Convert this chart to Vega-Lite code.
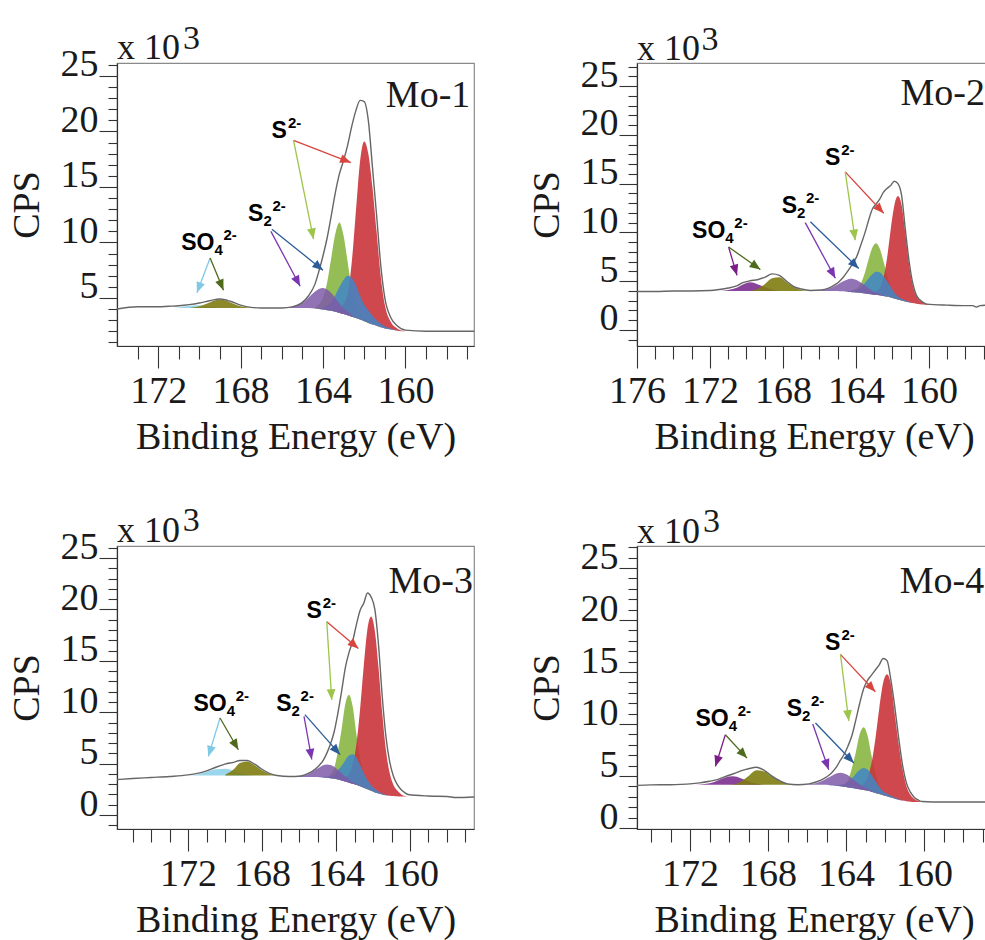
{
"$schema": "https://vega.github.io/schema/vega-lite/v6.json",
"padding": {"left": 7, "top": 21, "right": 0, "bottom": 0},
"background": "white",
"columns": 2,
"spacing": {"row": 46, "column": 49},
"config": {
  "view": {"stroke": "#8a8a8a", "strokeWidth": 1.2},
  "axis": {"grid": false, "domainColor": "#333", "domainWidth": 1.2, "tickColor": "#333", "tickWidth": 1.1,
    "labelFont": "Liberation Serif", "labelFontSize": 38, "labelColor": "#1a1a1a",
    "titleFont": "Liberation Serif", "titleFontSize": 38, "titleFontWeight": "normal", "titleColor": "#1a1a1a",
    "labelOverlap": false, "labelFlush": false, "labelBound": false}
},
"datasets": {
"p1": [
{"E":174,"bg":4.1,"env":4.0},{"E":173,"bg":4.1,"env":4.2},{"E":172,"bg":4.1,"env":4.2},
{"E":171.5,"bg":4.1,"env":4.25,"lbl":4.1},{"E":171,"bg":4.1,"env":4.3,"lbl":4.15},
{"E":170.5,"bg":4.1,"env":4.4,"lbl":4.3,"olv":4.1},{"E":170,"bg":4.1,"env":4.55,"lbl":4.35,"olv":4.25},
{"E":169.5,"bg":4.1,"env":4.75,"lbl":4.25,"olv":4.6},{"E":169,"bg":4.1,"env":4.9,"lbl":4.1,"olv":4.85},
{"E":168.5,"bg":4.1,"env":4.7,"olv":4.6},{"E":168,"bg":4.1,"env":4.35,"olv":4.25},
{"E":167.5,"bg":4.1,"env":4.15,"olv":4.1},{"E":167,"bg":4.1,"env":4.1},
{"E":166,"bg":4.1,"env":4.1,"pur":4.1},{"E":165.5,"bg":4.1,"env":4.2,"pur":4.2},
{"E":165,"bg":4.1,"env":4.6,"pur":4.55},{"E":164.7,"bg":4.1,"env":5.2,"pur":5.05},
{"E":164.4,"bg":4.05,"env":6.2,"pur":5.55,"grn":4.1},
{"E":164.2,"bg":4.0,"env":7.4,"pur":5.8,"grn":4.45,"blu":4.0},
{"E":164.0,"bg":3.95,"env":8.8,"pur":5.9,"grn":5.0,"blu":4.15},
{"E":163.8,"bg":3.9,"env":10.4,"pur":5.75,"grn":6.4,"blu":4.3},
{"E":163.6,"bg":3.85,"env":12.4,"pur":5.45,"grn":8.6,"blu":4.65},
{"E":163.4,"bg":3.75,"env":14.5,"pur":5.0,"grn":10.8,"blu":5.25,"red":3.75},
{"E":163.2,"bg":3.65,"env":16.2,"pur":4.5,"grn":11.8,"blu":6.0,"red":4.05},
{"E":163.0,"bg":3.55,"env":17.4,"pur":4.05,"grn":10.6,"blu":6.65,"red":4.45},
{"E":162.8,"bg":3.45,"env":18.8,"pur":3.75,"grn":8.2,"blu":7.0,"red":5.4},
{"E":162.6,"bg":3.3,"env":20.5,"pur":3.45,"grn":5.8,"blu":6.8,"red":8.3},
{"E":162.4,"bg":3.2,"env":21.9,"pur":3.2,"grn":4.3,"blu":6.15,"red":12.9},
{"E":162.2,"bg":3.05,"env":22.8,"grn":3.6,"blu":5.2,"red":17.35},
{"E":162.0,"bg":2.9,"env":22.7,"grn":3.15,"blu":4.4,"red":19.1},
{"E":161.8,"bg":2.75,"env":21.0,"grn":2.85,"blu":3.9,"red":18.0},
{"E":161.6,"bg":2.6,"env":16.8,"grn":2.6,"blu":3.4,"red":15.0},
{"E":161.4,"bg":2.5,"env":12.5,"blu":3.0,"red":11.0},
{"E":161.2,"bg":2.35,"env":8.0,"blu":2.7,"red":7.0},
{"E":161.0,"bg":2.25,"env":5.0,"blu":2.45,"red":4.4},
{"E":160.7,"bg":2.15,"env":3.2,"blu":2.25,"red":2.8},
{"E":160.4,"bg":2.05,"env":2.5,"blu":2.05,"red":2.25},
{"E":160.0,"bg":2.0,"env":2.1,"red":2.0},
{"E":159,"bg":2.0,"env":2.0},{"E":158,"bg":2.0,"env":2.0},{"E":156.67,"bg":2.0,"env":2.0}
],
"p2": [
{"E":176,"bg":4.0,"env":3.95},{"E":175,"bg":4.0,"env":3.95},{"E":174,"bg":4.0,"env":4.0},
{"E":173,"bg":4.0,"env":4.0},{"E":172,"bg":4.0,"env":4.05},
{"E":171.5,"bg":4.0,"env":4.15,"pso":4.0},{"E":171,"bg":4.0,"env":4.3,"pso":4.1},
{"E":170.5,"bg":4.0,"env":4.55,"pso":4.35},{"E":170.2,"bg":4.0,"env":4.85,"pso":4.65},
{"E":169.8,"bg":4.0,"env":5.05,"pso":4.88,"olv":4.0},{"E":169.4,"bg":4.0,"env":5.15,"pso":4.7,"olv":4.2},
{"E":169.0,"bg":4.0,"env":5.4,"pso":4.4,"olv":4.7},{"E":168.6,"bg":4.0,"env":5.75,"pso":4.15,"olv":5.3},
{"E":168.2,"bg":4.0,"env":5.6,"pso":4.0,"olv":5.4},{"E":167.8,"bg":4.0,"env":5.0,"olv":4.9},
{"E":167.4,"bg":4.0,"env":4.45,"olv":4.4},{"E":167.0,"bg":4.0,"env":4.2,"olv":4.1},
{"E":166.5,"bg":4.0,"env":4.05,"olv":4.0,"pur":4.0},
{"E":165.9,"bg":4.0,"env":4.1,"pur":4.08},{"E":165.5,"bg":4.0,"env":4.3,"pur":4.22},
{"E":165.1,"bg":4.0,"env":4.7,"pur":4.55},{"E":164.9,"bg":3.98,"env":5.0,"pur":4.78},
{"E":164.7,"bg":3.96,"env":5.4,"pur":4.99},
{"E":164.5,"bg":3.93,"env":5.9,"pur":5.15,"blu":3.93},
{"E":164.3,"bg":3.9,"env":6.45,"pur":5.24,"blu":4.01,"grn":3.95},
{"E":164.1,"bg":3.87,"env":7.0,"pur":5.21,"blu":4.04,"grn":4.15},
{"E":163.9,"bg":3.83,"env":7.8,"pur":5.05,"blu":4.17,"grn":4.35},
{"E":163.7,"bg":3.79,"env":8.9,"pur":4.82,"blu":4.39,"grn":4.9},
{"E":163.5,"bg":3.75,"env":10.0,"pur":4.55,"blu":4.83,"grn":5.95},
{"E":163.3,"bg":3.7,"env":11.3,"pur":4.25,"blu":5.3,"grn":7.3},
{"E":163.1,"bg":3.65,"env":12.4,"pur":3.99,"blu":5.71,"grn":8.45,"red":3.8},
{"E":162.9,"bg":3.6,"env":12.9,"pur":3.82,"blu":5.97,"grn":8.9,"red":3.97},
{"E":162.7,"bg":3.55,"env":13.4,"pur":3.67,"blu":5.92,"grn":8.35,"red":4.29},
{"E":162.5,"bg":3.49,"env":14.1,"pur":3.55,"blu":5.55,"grn":7.1,"red":5.29},
{"E":162.3,"bg":3.42,"env":14.5,"pur":3.42,"blu":5.02,"grn":5.6,"red":7.32},
{"E":162.1,"bg":3.34,"env":14.8,"blu":4.42,"grn":4.4,"red":10.24},
{"E":161.9,"bg":3.23,"env":15.25,"blu":3.83,"grn":3.7,"red":12.73},
{"E":161.7,"bg":3.12,"env":15.0,"blu":3.46,"grn":3.35,"red":13.72},
{"E":161.5,"bg":3.02,"env":13.8,"blu":3.19,"grn":3.11,"red":12.8},
{"E":161.3,"bg":2.93,"env":10.4,"blu":3.04,"grn":2.93,"red":10.0},
{"E":161.1,"bg":2.85,"env":7.2,"blu":2.91,"red":6.9},
{"E":160.9,"bg":2.77,"env":4.9,"blu":2.77,"red":4.7},
{"E":160.7,"bg":2.7,"env":3.6,"red":3.5},
{"E":160.5,"bg":2.64,"env":3.1,"red":3.02},
{"E":160.3,"bg":2.6,"env":2.8,"red":2.77},
{"E":160.1,"bg":2.56,"env":2.65,"red":2.64},
{"E":159,"bg":2.55,"env":2.55,"red":2.55},
{"E":158,"bg":2.55,"env":2.5},{"E":157.6,"bg":2.55,"env":2.5},{"E":157.4,"bg":2.55,"env":2.35},
{"E":157.2,"bg":2.55,"env":2.5},{"E":156.6,"bg":2.55,"env":2.55}
],
"p3": [
{"E":175.84,"bg":3.45,"env":3.45},{"E":175,"bg":3.55,"env":3.55},{"E":174,"bg":3.65,"env":3.65},
{"E":173,"bg":3.75,"env":3.75},{"E":172,"bg":3.85,"env":3.9,"lbl":3.85},
{"E":171.5,"bg":3.85,"env":4.05,"lbl":3.95},{"E":171,"bg":3.85,"env":4.3,"lbl":4.2},
{"E":170.5,"bg":3.85,"env":4.65,"lbl":4.45},{"E":170,"bg":3.85,"env":4.95,"lbl":4.5,"olv":3.9},
{"E":169.5,"bg":3.85,"env":5.15,"lbl":4.3,"olv":4.5},{"E":169.2,"bg":3.85,"env":5.3,"lbl":4.1,"olv":5.05},
{"E":168.8,"bg":3.85,"env":5.3,"lbl":3.9,"olv":5.2},{"E":168.4,"bg":3.85,"env":4.95,"lbl":3.85,"olv":4.85},
{"E":168.0,"bg":3.85,"env":4.45,"olv":4.35},{"E":167.6,"bg":3.85,"env":4.05,"olv":4.0},
{"E":167.2,"bg":3.85,"env":3.85,"olv":3.85},
{"E":166.5,"bg":3.75,"env":3.75,"pur":3.75},{"E":165.9,"bg":3.7,"env":3.8,"pur":3.79},
{"E":165.5,"bg":3.7,"env":4.05,"pur":3.99},{"E":165.1,"bg":3.7,"env":4.5,"pur":4.42},
{"E":164.9,"bg":3.68,"env":4.85,"pur":4.63,"blu":3.68},
{"E":164.7,"bg":3.66,"env":5.3,"pur":4.83,"blu":3.72},
{"E":164.5,"bg":3.63,"env":6.0,"pur":4.92,"blu":3.74,"grn":3.63},
{"E":164.3,"bg":3.58,"env":6.9,"pur":4.87,"blu":3.78,"grn":3.96},
{"E":164.1,"bg":3.52,"env":8.1,"pur":4.69,"blu":3.95,"grn":4.55},
{"E":163.9,"bg":3.45,"env":9.9,"pur":4.4,"blu":4.36,"grn":6.19},
{"E":163.7,"bg":3.36,"env":12.0,"pur":4.08,"blu":4.79,"grn":8.32,"red":3.36},
{"E":163.5,"bg":3.26,"env":14.3,"pur":3.74,"blu":5.34,"grn":10.78,"red":3.71},
{"E":163.3,"bg":3.15,"env":15.8,"pur":3.44,"blu":5.8,"grn":11.7,"red":4.0},
{"E":163.1,"bg":3.05,"env":16.9,"pur":3.22,"blu":5.9,"grn":10.57,"red":4.91},
{"E":162.9,"bg":2.95,"env":18.5,"pur":3.04,"blu":5.6,"grn":7.91,"red":6.85},
{"E":162.7,"bg":2.8,"env":19.9,"pur":2.8,"blu":4.88,"grn":5.54,"red":10.26},
{"E":162.5,"bg":2.65,"env":20.6,"blu":4.08,"grn":3.68,"red":14.52},
{"E":162.3,"bg":2.5,"env":21.6,"blu":3.41,"grn":2.88,"red":18.1},
{"E":162.1,"bg":2.35,"env":21.2,"blu":2.9,"grn":2.5,"red":19.3},
{"E":161.9,"bg":2.2,"env":20.0,"blu":2.55,"grn":2.2,"red":17.9},
{"E":161.7,"bg":2.1,"env":16.5,"blu":2.3,"red":14.3},
{"E":161.5,"bg":2.0,"env":11.5,"blu":2.1,"red":9.9},
{"E":161.3,"bg":1.93,"env":7.6,"blu":1.98,"red":6.3},
{"E":161.1,"bg":1.88,"env":5.2,"blu":1.88,"red":4.1},
{"E":160.9,"bg":1.85,"env":3.8,"red":2.95},
{"E":160.7,"bg":1.82,"env":3.0,"red":2.4},
{"E":160.5,"bg":1.8,"env":2.5,"red":2.05},
{"E":160.3,"bg":1.8,"env":2.2,"red":1.85},
{"E":160.1,"bg":1.8,"env":2.0,"red":1.8},
{"E":159,"bg":1.8,"env":1.85},{"E":158,"bg":1.8,"env":1.8},{"E":157.5,"bg":1.8,"env":1.7},
{"E":156.54,"bg":1.8,"env":1.75}
],
"p4": [
{"E":174.72,"bg":4.17,"env":4.1},{"E":174,"bg":4.17,"env":4.15},{"E":173,"bg":4.17,"env":4.17},
{"E":172.5,"bg":4.17,"env":4.2},{"E":172,"bg":4.17,"env":4.25,"pso":4.17},
{"E":171.5,"bg":4.17,"env":4.35,"pso":4.2},{"E":171.0,"bg":4.17,"env":4.5,"pso":4.3},
{"E":170.6,"bg":4.17,"env":4.65,"pso":4.55},{"E":170.2,"bg":4.17,"env":4.95,"pso":4.85,"olv":4.17},
{"E":169.8,"bg":4.17,"env":5.2,"pso":4.97,"olv":4.2},{"E":169.4,"bg":4.17,"env":5.5,"pso":4.8,"olv":4.45},
{"E":169.0,"bg":4.17,"env":5.7,"pso":4.5,"olv":5.0},{"E":168.6,"bg":4.17,"env":5.85,"pso":4.25,"olv":5.55},
{"E":168.2,"bg":4.17,"env":5.55,"pso":4.17,"olv":5.45},{"E":167.8,"bg":4.17,"env":5.0,"olv":4.95},
{"E":167.4,"bg":4.17,"env":4.55,"olv":4.5},{"E":167.0,"bg":4.17,"env":4.25,"olv":4.25},
{"E":166.5,"bg":4.17,"env":4.17,"olv":4.17,"pur":4.17},
{"E":165.9,"bg":4.17,"env":4.25,"pur":4.22},{"E":165.5,"bg":4.17,"env":4.45,"pur":4.34},
{"E":165.1,"bg":4.17,"env":4.8,"pur":4.65},
{"E":164.9,"bg":4.15,"env":5.05,"pur":4.86,"blu":4.15},
{"E":164.7,"bg":4.12,"env":5.4,"pur":5.06,"blu":4.16},
{"E":164.5,"bg":4.08,"env":5.85,"pur":5.24,"blu":4.15},
{"E":164.3,"bg":4.03,"env":6.5,"pur":5.31,"blu":4.17,"grn":4.03},
{"E":164.1,"bg":3.97,"env":7.1,"pur":5.25,"blu":4.22,"grn":4.24},
{"E":163.9,"bg":3.91,"env":7.9,"pur":5.07,"blu":4.41,"grn":4.63},
{"E":163.7,"bg":3.85,"env":8.9,"pur":4.79,"blu":4.8,"grn":5.78},
{"E":163.5,"bg":3.79,"env":10.4,"pur":4.5,"blu":5.22,"grn":7.29,"red":3.79},
{"E":163.3,"bg":3.73,"env":12.0,"pur":4.21,"blu":5.6,"grn":9.04,"red":4.03},
{"E":163.1,"bg":3.67,"env":13.4,"pur":3.95,"blu":5.77,"grn":9.7,"red":4.26},
{"E":162.9,"bg":3.6,"env":14.2,"pur":3.77,"blu":5.62,"grn":8.91,"red":4.89},
{"E":162.7,"bg":3.5,"env":14.7,"pur":3.59,"blu":5.16,"grn":7.0,"red":6.2},
{"E":162.5,"bg":3.38,"env":15.2,"pur":3.38,"blu":4.54,"grn":5.31,"red":8.55},
{"E":162.3,"bg":3.27,"env":15.7,"blu":3.98,"grn":3.99,"red":11.5},
{"E":162.1,"bg":3.16,"env":16.3,"blu":3.54,"grn":3.43,"red":13.96},
{"E":161.9,"bg":3.05,"env":16.1,"blu":3.3,"grn":3.15,"red":14.8},
{"E":161.7,"bg":2.93,"env":14.2,"blu":3.1,"grn":2.93,"red":13.8},
{"E":161.5,"bg":2.82,"env":11.6,"blu":2.95,"red":10.9},
{"E":161.3,"bg":2.72,"env":8.6,"blu":2.8,"red":8.0},
{"E":161.1,"bg":2.64,"env":6.0,"blu":2.68,"red":5.6},
{"E":160.9,"bg":2.58,"env":4.3,"blu":2.6,"red":4.0},
{"E":160.7,"bg":2.54,"env":3.45,"red":3.2},
{"E":160.5,"bg":2.51,"env":2.95,"red":2.8},
{"E":160.3,"bg":2.5,"env":2.7,"red":2.62},
{"E":160.1,"bg":2.5,"env":2.55,"red":2.52},
{"E":159,"bg":2.5,"env":2.5,"red":2.5},
{"E":158,"bg":2.5,"env":2.5},{"E":156.57,"bg":2.5,"env":2.5}
],
"ann": [
{"p":1,"k":"lab","E":165.75,"v":19.4,"base":"S","sub":"","sup":"2-"},
{"p":1,"k":"arr","E":165.43,"v":19.2,"E2":162.65,"v2":17.2,"t":"red"},
{"p":1,"k":"arr","E":165.43,"v":19.2,"E2":164.46,"v2":10.3,"t":"green"},
{"p":1,"k":"lab","E":166.89,"v":11.9,"base":"S","sub":"2","sup":"2-"},
{"p":1,"k":"arr","E":166.48,"v":11.2,"E2":164.0,"v2":7.5,"t":"blue"},
{"p":1,"k":"arr","E":166.53,"v":11.0,"E2":165.11,"v2":6.06,"t":"purple"},
{"p":1,"k":"lab","E":169.27,"v":9.3,"base":"SO","sub":"4","sup":"2-"},
{"p":1,"k":"arr","E":169.48,"v":8.6,"E2":170.12,"v2":5.47,"t":"lblue"},
{"p":1,"k":"arr","E":169.48,"v":8.6,"E2":168.83,"v2":5.7,"t":"olive"},
{"p":1,"k":"mo","E":156.85,"v":22.25,"base":"Mo-1"},
{"p":1,"k":"x10","E":174.0,"v":26.5,"base":"x 10"},
{"p":1,"k":"e3","E":170.8,"v":27.4,"base":"3"},
{"p":2,"k":"lab","E":164.86,"v":16.9,"base":"S","sub":"","sup":"2-"},
{"p":2,"k":"arr","E":164.59,"v":16.2,"E2":162.48,"v2":11.96,"t":"red"},
{"p":2,"k":"arr","E":164.59,"v":16.2,"E2":164.04,"v2":9.2,"t":"green"},
{"p":2,"k":"lab","E":167.23,"v":11.95,"base":"S","sub":"2","sup":"2-"},
{"p":2,"k":"arr","E":166.5,"v":11.1,"E2":163.85,"v2":6.3,"t":"blue"},
{"p":2,"k":"arr","E":166.78,"v":11.0,"E2":165.13,"v2":5.3,"t":"purple"},
{"p":2,"k":"lab","E":171.16,"v":9.4,"base":"SO","sub":"4","sup":"2-"},
{"p":2,"k":"arr","E":170.98,"v":8.5,"E2":170.52,"v2":5.6,"t":"magenta"},
{"p":2,"k":"arr","E":170.98,"v":8.5,"E2":169.24,"v2":6.2,"t":"olive"},
{"p":2,"k":"mo","E":156.93,"v":23.05,"base":"Mo-2"},
{"p":2,"k":"x10","E":176.0,"v":27.66,"base":"x 10"},
{"p":2,"k":"e3","E":172.47,"v":28.7,"base":"3"},
{"p":3,"k":"lab","E":164.77,"v":19.2,"base":"S","sub":"","sup":"2-"},
{"p":3,"k":"arr","E":164.5,"v":18.8,"E2":162.79,"v2":16.2,"t":"red"},
{"p":3,"k":"arr","E":164.5,"v":18.8,"E2":164.23,"v2":11.2,"t":"green"},
{"p":3,"k":"lab","E":166.4,"v":10.1,"base":"S","sub":"2","sup":"2-"},
{"p":3,"k":"arr","E":165.68,"v":9.76,"E2":163.78,"v2":5.87,"t":"blue"},
{"p":3,"k":"arr","E":165.73,"v":9.6,"E2":165.31,"v2":5.4,"t":"purple"},
{"p":3,"k":"lab","E":169.91,"v":10.1,"base":"SO","sub":"4","sup":"2-"},
{"p":3,"k":"arr","E":170.27,"v":9.44,"E2":170.9,"v2":5.7,"t":"lblue"},
{"p":3,"k":"arr","E":170.27,"v":9.44,"E2":169.28,"v2":6.35,"t":"olive"},
{"p":3,"k":"mo","E":156.6,"v":21.6,"base":"Mo-3"},
{"p":3,"k":"x10","E":175.84,"v":26.6,"base":"x 10"},
{"p":3,"k":"e3","E":172.28,"v":27.6,"base":"3"},
{"p":4,"k":"lab","E":164.29,"v":17.1,"base":"S","sub":"","sup":"2-"},
{"p":4,"k":"arr","E":164.29,"v":16.7,"E2":162.5,"v2":13.1,"t":"red"},
{"p":4,"k":"arr","E":164.29,"v":16.7,"E2":163.86,"v2":10.3,"t":"green"},
{"p":4,"k":"lab","E":166.26,"v":10.74,"base":"S","sub":"2","sup":"2-"},
{"p":4,"k":"arr","E":165.57,"v":10.1,"E2":163.6,"v2":6.25,"t":"blue"},
{"p":4,"k":"arr","E":165.71,"v":10.0,"E2":164.89,"v2":5.6,"t":"purple"},
{"p":4,"k":"lab","E":170.02,"v":9.78,"base":"SO","sub":"4","sup":"2-"},
{"p":4,"k":"arr","E":170.19,"v":8.97,"E2":170.7,"v2":5.93,"t":"magenta"},
{"p":4,"k":"arr","E":170.19,"v":8.97,"E2":169.08,"v2":6.73,"t":"olive"},
{"p":4,"k":"mo","E":156.92,"v":22.6,"base":"Mo-4"},
{"p":4,"k":"x10","E":174.72,"v":27.4,"base":"x 10"},
{"p":4,"k":"e3","E":171.34,"v":28.5,"base":"3"}
]
},
"concat": [
{
 "width": 357, "height": 283,
 "encoding": {
  "x": {"field": "E", "type": "quantitative", "title": "Binding Energy (eV)",
   "scale": {"domain": [156.67, 174], "reverse": true, "nice": false, "zero": false},
   "axis": {"values": [157,158,159,160,161,162,163,164,165,166,167,168,169,170,171,172,173], "format": "d",
    "labelExpr": "datum.value % 4 === 0 ? datum.label : ''",
    "tickSize": {"condition": {"test": "datum.value % 4 === 0", "value": 22}, "value": 13},
    "labelPadding": 4, "titlePadding": 8}},
  "y": {"field": "v", "type": "quantitative", "title": "CPS",
   "scale": {"domain": [0.67, 26.17], "nice": false, "zero": false},
   "axis": {"values": [1,2,3,4,5,6,7,8,9,10,11,12,13,14,15,16,17,18,19,20,21,22,23,24,25,26], "format": "d",
    "labelExpr": "datum.value % 5 === 0 ? datum.label : ''",
    "tickSize": {"condition": {"test": "datum.value % 5 === 0", "value": 18}, "value": 9},
    "labelBaseline": "alphabetic", "labelPadding": 1, "titlePadding": 14}}
 },
 "layer": [
  {"data": {"name": "p1"},
   "transform": [{"fold": ["lbl","olv","grn","red","blu","pur","pso","env"], "as": ["comp","v"]}, {"filter": "isValid(datum.v)"}],
   "layer": [
    {"transform": [{"filter": "datum.comp === 'lbl'"}], "mark": {"type": "area", "color": "#8fd1ea", "opacity": 0.9, "interpolate": "monotone"}, "encoding": {"y2": {"field": "bg"}}},
    {"transform": [{"filter": "datum.comp === 'olv'"}], "mark": {"type": "area", "color": "#7f7c12", "opacity": 0.9, "interpolate": "monotone"}, "encoding": {"y2": {"field": "bg"}}},
    {"transform": [{"filter": "datum.comp === 'grn'"}], "mark": {"type": "area", "color": "#8ab642", "opacity": 0.9, "interpolate": "monotone"}, "encoding": {"y2": {"field": "bg"}}},
    {"transform": [{"filter": "datum.comp === 'red'"}], "mark": {"type": "area", "color": "#c9343a", "opacity": 0.9, "interpolate": "monotone"}, "encoding": {"y2": {"field": "bg"}}},
    {"transform": [{"filter": "datum.comp === 'blu'"}], "mark": {"type": "area", "color": "#3f86c8", "opacity": 0.85, "interpolate": "monotone"}, "encoding": {"y2": {"field": "bg"}}},
    {"transform": [{"filter": "datum.comp === 'pur'"}], "mark": {"type": "area", "color": "#7f5aa8", "opacity": 0.85, "interpolate": "monotone"}, "encoding": {"y2": {"field": "bg"}}},
    {"transform": [{"filter": "datum.comp === 'env'"}], "mark": {"type": "line", "color": "#666666", "strokeWidth": 1.4, "interpolate": "monotone"}, "encoding": {}}
   ]},
  {"data": {"name": "ann"},
   "transform": [{"filter": "datum.p === 1"}],
   "layer": [
    {"transform": [{"filter": "datum.k === 'arr'"}], "mark": {"type": "rule", "strokeWidth": 1.3},
     "encoding": {"x2": {"field": "E2", "title": "Binding Energy (eV)"}, "y2": {"field": "v2", "title": "CPS"},
      "color": {"field": "t", "type": "nominal", "legend": null, "scale": {"domain": ["red","green","blue","purple","lblue","olive","magenta"], "range": ["#d8453e","#9cc54a","#2c5d99","#7a36b1","#7fc9e6","#4e6a1b","#7b1d87"]}}}},
    {"transform": [{"filter": "datum.k === 'arr'"}, {"calculate": "atan2((datum.E - datum.E2) * 20.6, (datum.v2 - datum.v) * 11.1) * 180 / PI", "as": "ang"}],
     "mark": {"type": "point", "shape": "M0,0L-0.45,1.1L0.45,1.1Z", "filled": true, "size": 380, "opacity": 1},
     "encoding": {"x": {"field": "E2", "type": "quantitative", "title": "Binding Energy (eV)"}, "y": {"field": "v2", "type": "quantitative", "title": "CPS"},
      "angle": {"field": "ang", "type": "quantitative", "scale": null},
      "color": {"field": "t", "type": "nominal", "legend": null, "scale": {"domain": ["red","green","blue","purple","lblue","olive","magenta"], "range": ["#d8453e","#9cc54a","#2c5d99","#7a36b1","#7fc9e6","#4e6a1b","#7b1d87"]}}}},
    {"transform": [{"filter": "datum.k === 'lab'"}], "mark": {"type": "text", "align": "right", "baseline": "alphabetic", "font": "Liberation Sans", "fontWeight": "bold", "fontSize": 23, "color": "#000"}, "encoding": {"text": {"field": "base"}}},
    {"transform": [{"filter": "datum.k === 'lab' && datum.sub !== ''"}], "mark": {"type": "text", "align": "left", "baseline": "alphabetic", "dy": 5, "font": "Liberation Sans", "fontWeight": "bold", "fontSize": 15, "color": "#000"}, "encoding": {"text": {"field": "sub"}}},
    {"transform": [{"filter": "datum.k === 'lab' && datum.sub === ''"}], "mark": {"type": "text", "align": "left", "baseline": "alphabetic", "dx": 1, "dy": -10, "font": "Liberation Sans", "fontWeight": "bold", "fontSize": 15, "color": "#000"}, "encoding": {"text": {"field": "sup"}}},
    {"transform": [{"filter": "datum.k === 'lab' && datum.sub !== ''"}], "mark": {"type": "text", "align": "left", "baseline": "alphabetic", "dx": 9, "dy": -10, "font": "Liberation Sans", "fontWeight": "bold", "fontSize": 15, "color": "#000"}, "encoding": {"text": {"field": "sup"}}},
    {"transform": [{"filter": "datum.k === 'mo'"}], "mark": {"type": "text", "align": "right", "baseline": "alphabetic", "font": "Liberation Serif", "fontSize": 38, "color": "#1a1a1a"}, "encoding": {"text": {"field": "base"}}},
    {"transform": [{"filter": "datum.k === 'x10'"}], "mark": {"type": "text", "align": "left", "baseline": "alphabetic", "font": "Liberation Serif", "fontSize": 36, "color": "#1a1a1a"}, "encoding": {"text": {"field": "base"}}},
    {"transform": [{"filter": "datum.k === 'e3'"}], "mark": {"type": "text", "align": "left", "baseline": "alphabetic", "font": "Liberation Serif", "fontSize": 34, "color": "#1a1a1a"}, "encoding": {"text": {"field": "base"}}}
   ]}
 ]
},
{
 "width": 354, "height": 283,
 "encoding": {
  "x": {"field": "E", "type": "quantitative", "title": "Binding Energy (eV)",
   "scale": {"domain": [156.6, 176], "reverse": true, "nice": false, "zero": false},
   "axis": {"values": [157,158,159,160,161,162,163,164,165,166,167,168,169,170,171,172,173,174,175,176], "format": "d",
    "labelExpr": "datum.value % 4 === 0 ? datum.label : ''",
    "tickSize": {"condition": {"test": "datum.value % 4 === 0", "value": 22}, "value": 13},
    "labelPadding": 4, "titlePadding": 8}},
  "y": {"field": "v", "type": "quantitative", "title": "CPS",
   "scale": {"domain": [-1.64, 27.36], "nice": false, "zero": false},
   "axis": {"values": [-1,0,1,2,3,4,5,6,7,8,9,10,11,12,13,14,15,16,17,18,19,20,21,22,23,24,25,26,27], "format": "d",
    "labelExpr": "datum.value % 5 === 0 ? datum.label : ''",
    "tickSize": {"condition": {"test": "datum.value % 5 === 0", "value": 18}, "value": 9},
    "labelBaseline": "alphabetic", "labelPadding": 1, "titlePadding": 14}}
 },
 "layer": [
  {"data": {"name": "p2"},
   "transform": [{"fold": ["lbl","olv","grn","red","blu","pur","pso","env"], "as": ["comp","v"]}, {"filter": "isValid(datum.v)"}],
   "layer": [
    {"transform": [{"filter": "datum.comp === 'pso'"}], "mark": {"type": "area", "color": "#7d2f90", "opacity": 0.9, "interpolate": "monotone"}, "encoding": {"y2": {"field": "bg"}}},
    {"transform": [{"filter": "datum.comp === 'olv'"}], "mark": {"type": "area", "color": "#7f7c12", "opacity": 0.9, "interpolate": "monotone"}, "encoding": {"y2": {"field": "bg"}}},
    {"transform": [{"filter": "datum.comp === 'grn'"}], "mark": {"type": "area", "color": "#8ab642", "opacity": 0.9, "interpolate": "monotone"}, "encoding": {"y2": {"field": "bg"}}},
    {"transform": [{"filter": "datum.comp === 'red'"}], "mark": {"type": "area", "color": "#c9343a", "opacity": 0.9, "interpolate": "monotone"}, "encoding": {"y2": {"field": "bg"}}},
    {"transform": [{"filter": "datum.comp === 'blu'"}], "mark": {"type": "area", "color": "#3f86c8", "opacity": 0.85, "interpolate": "monotone"}, "encoding": {"y2": {"field": "bg"}}},
    {"transform": [{"filter": "datum.comp === 'pur'"}], "mark": {"type": "area", "color": "#7f5aa8", "opacity": 0.85, "interpolate": "monotone"}, "encoding": {"y2": {"field": "bg"}}},
    {"transform": [{"filter": "datum.comp === 'env'"}], "mark": {"type": "line", "color": "#666666", "strokeWidth": 1.4, "interpolate": "monotone"}, "encoding": {}}
   ]},
  {"data": {"name": "ann"},
   "transform": [{"filter": "datum.p === 2"}],
   "layer": [
    {"transform": [{"filter": "datum.k === 'arr'"}], "mark": {"type": "rule", "strokeWidth": 1.3},
     "encoding": {"x2": {"field": "E2", "title": "Binding Energy (eV)"}, "y2": {"field": "v2", "title": "CPS"},
      "color": {"field": "t", "type": "nominal", "legend": null, "scale": {"domain": ["red","green","blue","purple","lblue","olive","magenta"], "range": ["#d8453e","#9cc54a","#2c5d99","#7a36b1","#7fc9e6","#4e6a1b","#7b1d87"]}}}},
    {"transform": [{"filter": "datum.k === 'arr'"}, {"calculate": "atan2((datum.E - datum.E2) * 18.25, (datum.v2 - datum.v) * 9.76) * 180 / PI", "as": "ang"}],
     "mark": {"type": "point", "shape": "M0,0L-0.45,1.1L0.45,1.1Z", "filled": true, "size": 380, "opacity": 1},
     "encoding": {"x": {"field": "E2", "type": "quantitative", "title": "Binding Energy (eV)"}, "y": {"field": "v2", "type": "quantitative", "title": "CPS"},
      "angle": {"field": "ang", "type": "quantitative", "scale": null},
      "color": {"field": "t", "type": "nominal", "legend": null, "scale": {"domain": ["red","green","blue","purple","lblue","olive","magenta"], "range": ["#d8453e","#9cc54a","#2c5d99","#7a36b1","#7fc9e6","#4e6a1b","#7b1d87"]}}}},
    {"transform": [{"filter": "datum.k === 'lab'"}], "mark": {"type": "text", "align": "right", "baseline": "alphabetic", "font": "Liberation Sans", "fontWeight": "bold", "fontSize": 23, "color": "#000"}, "encoding": {"text": {"field": "base"}}},
    {"transform": [{"filter": "datum.k === 'lab' && datum.sub !== ''"}], "mark": {"type": "text", "align": "left", "baseline": "alphabetic", "dy": 5, "font": "Liberation Sans", "fontWeight": "bold", "fontSize": 15, "color": "#000"}, "encoding": {"text": {"field": "sub"}}},
    {"transform": [{"filter": "datum.k === 'lab' && datum.sub === ''"}], "mark": {"type": "text", "align": "left", "baseline": "alphabetic", "dx": 1, "dy": -10, "font": "Liberation Sans", "fontWeight": "bold", "fontSize": 15, "color": "#000"}, "encoding": {"text": {"field": "sup"}}},
    {"transform": [{"filter": "datum.k === 'lab' && datum.sub !== ''"}], "mark": {"type": "text", "align": "left", "baseline": "alphabetic", "dx": 9, "dy": -10, "font": "Liberation Sans", "fontWeight": "bold", "fontSize": 15, "color": "#000"}, "encoding": {"text": {"field": "sup"}}},
    {"transform": [{"filter": "datum.k === 'mo'"}], "mark": {"type": "text", "align": "right", "baseline": "alphabetic", "font": "Liberation Serif", "fontSize": 38, "color": "#1a1a1a"}, "encoding": {"text": {"field": "base"}}},
    {"transform": [{"filter": "datum.k === 'x10'"}], "mark": {"type": "text", "align": "left", "baseline": "alphabetic", "font": "Liberation Serif", "fontSize": 36, "color": "#1a1a1a"}, "encoding": {"text": {"field": "base"}}},
    {"transform": [{"filter": "datum.k === 'e3'"}], "mark": {"type": "text", "align": "left", "baseline": "alphabetic", "font": "Liberation Serif", "fontSize": 34, "color": "#1a1a1a"}, "encoding": {"text": {"field": "base"}}}
   ]}
 ]
},
{
 "width": 357, "height": 283,
 "encoding": {
  "x": {"field": "E", "type": "quantitative", "title": "Binding Energy (eV)",
   "scale": {"domain": [156.54, 175.84], "reverse": true, "nice": false, "zero": false},
   "axis": {"values": [157,158,159,160,161,162,163,164,165,166,167,168,169,170,171,172,173,174,175], "format": "d",
    "labelExpr": "datum.value % 4 === 0 ? datum.label : ''",
    "tickSize": {"condition": {"test": "datum.value % 4 === 0", "value": 22}, "value": 13},
    "labelPadding": 4, "titlePadding": 8}},
  "y": {"field": "v", "type": "quantitative", "title": "CPS",
   "scale": {"domain": [-1.36, 26.17], "nice": false, "zero": false},
   "axis": {"values": [-1,0,1,2,3,4,5,6,7,8,9,10,11,12,13,14,15,16,17,18,19,20,21,22,23,24,25,26], "format": "d",
    "labelExpr": "datum.value % 5 === 0 ? datum.label : ''",
    "tickSize": {"condition": {"test": "datum.value % 5 === 0", "value": 18}, "value": 9},
    "labelBaseline": "alphabetic", "labelPadding": 1, "titlePadding": 14}}
 },
 "layer": [
  {"data": {"name": "p3"},
   "transform": [{"fold": ["lbl","olv","grn","red","blu","pur","pso","env"], "as": ["comp","v"]}, {"filter": "isValid(datum.v)"}],
   "layer": [
    {"transform": [{"filter": "datum.comp === 'lbl'"}], "mark": {"type": "area", "color": "#8fd1ea", "opacity": 0.9, "interpolate": "monotone"}, "encoding": {"y2": {"field": "bg"}}},
    {"transform": [{"filter": "datum.comp === 'olv'"}], "mark": {"type": "area", "color": "#7f7c12", "opacity": 0.9, "interpolate": "monotone"}, "encoding": {"y2": {"field": "bg"}}},
    {"transform": [{"filter": "datum.comp === 'grn'"}], "mark": {"type": "area", "color": "#8ab642", "opacity": 0.9, "interpolate": "monotone"}, "encoding": {"y2": {"field": "bg"}}},
    {"transform": [{"filter": "datum.comp === 'red'"}], "mark": {"type": "area", "color": "#c9343a", "opacity": 0.9, "interpolate": "monotone"}, "encoding": {"y2": {"field": "bg"}}},
    {"transform": [{"filter": "datum.comp === 'blu'"}], "mark": {"type": "area", "color": "#3f86c8", "opacity": 0.85, "interpolate": "monotone"}, "encoding": {"y2": {"field": "bg"}}},
    {"transform": [{"filter": "datum.comp === 'pur'"}], "mark": {"type": "area", "color": "#7f5aa8", "opacity": 0.85, "interpolate": "monotone"}, "encoding": {"y2": {"field": "bg"}}},
    {"transform": [{"filter": "datum.comp === 'env'"}], "mark": {"type": "line", "color": "#666666", "strokeWidth": 1.4, "interpolate": "monotone"}, "encoding": {}}
   ]},
  {"data": {"name": "ann"},
   "transform": [{"filter": "datum.p === 3"}],
   "layer": [
    {"transform": [{"filter": "datum.k === 'arr'"}], "mark": {"type": "rule", "strokeWidth": 1.3},
     "encoding": {"x2": {"field": "E2", "title": "Binding Energy (eV)"}, "y2": {"field": "v2", "title": "CPS"},
      "color": {"field": "t", "type": "nominal", "legend": null, "scale": {"domain": ["red","green","blue","purple","lblue","olive","magenta"], "range": ["#d8453e","#9cc54a","#2c5d99","#7a36b1","#7fc9e6","#4e6a1b","#7b1d87"]}}}},
    {"transform": [{"filter": "datum.k === 'arr'"}, {"calculate": "atan2((datum.E - datum.E2) * 18.5, (datum.v2 - datum.v) * 10.28) * 180 / PI", "as": "ang"}],
     "mark": {"type": "point", "shape": "M0,0L-0.45,1.1L0.45,1.1Z", "filled": true, "size": 380, "opacity": 1},
     "encoding": {"x": {"field": "E2", "type": "quantitative", "title": "Binding Energy (eV)"}, "y": {"field": "v2", "type": "quantitative", "title": "CPS"},
      "angle": {"field": "ang", "type": "quantitative", "scale": null},
      "color": {"field": "t", "type": "nominal", "legend": null, "scale": {"domain": ["red","green","blue","purple","lblue","olive","magenta"], "range": ["#d8453e","#9cc54a","#2c5d99","#7a36b1","#7fc9e6","#4e6a1b","#7b1d87"]}}}},
    {"transform": [{"filter": "datum.k === 'lab'"}], "mark": {"type": "text", "align": "right", "baseline": "alphabetic", "font": "Liberation Sans", "fontWeight": "bold", "fontSize": 23, "color": "#000"}, "encoding": {"text": {"field": "base"}}},
    {"transform": [{"filter": "datum.k === 'lab' && datum.sub !== ''"}], "mark": {"type": "text", "align": "left", "baseline": "alphabetic", "dy": 5, "font": "Liberation Sans", "fontWeight": "bold", "fontSize": 15, "color": "#000"}, "encoding": {"text": {"field": "sub"}}},
    {"transform": [{"filter": "datum.k === 'lab' && datum.sub === ''"}], "mark": {"type": "text", "align": "left", "baseline": "alphabetic", "dx": 1, "dy": -10, "font": "Liberation Sans", "fontWeight": "bold", "fontSize": 15, "color": "#000"}, "encoding": {"text": {"field": "sup"}}},
    {"transform": [{"filter": "datum.k === 'lab' && datum.sub !== ''"}], "mark": {"type": "text", "align": "left", "baseline": "alphabetic", "dx": 9, "dy": -10, "font": "Liberation Sans", "fontWeight": "bold", "fontSize": 15, "color": "#000"}, "encoding": {"text": {"field": "sup"}}},
    {"transform": [{"filter": "datum.k === 'mo'"}], "mark": {"type": "text", "align": "right", "baseline": "alphabetic", "font": "Liberation Serif", "fontSize": 38, "color": "#1a1a1a"}, "encoding": {"text": {"field": "base"}}},
    {"transform": [{"filter": "datum.k === 'x10'"}], "mark": {"type": "text", "align": "left", "baseline": "alphabetic", "font": "Liberation Serif", "fontSize": 36, "color": "#1a1a1a"}, "encoding": {"text": {"field": "base"}}},
    {"transform": [{"filter": "datum.k === 'e3'"}], "mark": {"type": "text", "align": "left", "baseline": "alphabetic", "font": "Liberation Serif", "fontSize": 34, "color": "#1a1a1a"}, "encoding": {"text": {"field": "base"}}}
   ]}
 ]
},
{
 "width": 354, "height": 283,
 "encoding": {
  "x": {"field": "E", "type": "quantitative", "title": "Binding Energy (eV)",
   "scale": {"domain": [156.57, 174.72], "reverse": true, "nice": false, "zero": false},
   "axis": {"values": [157,158,159,160,161,162,163,164,165,166,167,168,169,170,171,172,173,174], "format": "d",
    "labelExpr": "datum.value % 4 === 0 ? datum.label : ''",
    "tickSize": {"condition": {"test": "datum.value % 4 === 0", "value": 22}, "value": 13},
    "labelPadding": 4, "titlePadding": 8}},
  "y": {"field": "v", "type": "quantitative", "title": "CPS",
   "scale": {"domain": [-0.09, 27.12], "nice": false, "zero": false},
   "axis": {"values": [0,1,2,3,4,5,6,7,8,9,10,11,12,13,14,15,16,17,18,19,20,21,22,23,24,25,26,27], "format": "d",
    "labelExpr": "datum.value % 5 === 0 ? datum.label : ''",
    "tickSize": {"condition": {"test": "datum.value % 5 === 0", "value": 18}, "value": 9},
    "labelBaseline": "alphabetic", "labelPadding": 1, "titlePadding": 14}}
 },
 "layer": [
  {"data": {"name": "p4"},
   "transform": [{"fold": ["lbl","olv","grn","red","blu","pur","pso","env"], "as": ["comp","v"]}, {"filter": "isValid(datum.v)"}],
   "layer": [
    {"transform": [{"filter": "datum.comp === 'pso'"}], "mark": {"type": "area", "color": "#7d2f90", "opacity": 0.9, "interpolate": "monotone"}, "encoding": {"y2": {"field": "bg"}}},
    {"transform": [{"filter": "datum.comp === 'olv'"}], "mark": {"type": "area", "color": "#7f7c12", "opacity": 0.9, "interpolate": "monotone"}, "encoding": {"y2": {"field": "bg"}}},
    {"transform": [{"filter": "datum.comp === 'grn'"}], "mark": {"type": "area", "color": "#8ab642", "opacity": 0.9, "interpolate": "monotone"}, "encoding": {"y2": {"field": "bg"}}},
    {"transform": [{"filter": "datum.comp === 'red'"}], "mark": {"type": "area", "color": "#c9343a", "opacity": 0.9, "interpolate": "monotone"}, "encoding": {"y2": {"field": "bg"}}},
    {"transform": [{"filter": "datum.comp === 'blu'"}], "mark": {"type": "area", "color": "#3f86c8", "opacity": 0.85, "interpolate": "monotone"}, "encoding": {"y2": {"field": "bg"}}},
    {"transform": [{"filter": "datum.comp === 'pur'"}], "mark": {"type": "area", "color": "#7f5aa8", "opacity": 0.85, "interpolate": "monotone"}, "encoding": {"y2": {"field": "bg"}}},
    {"transform": [{"filter": "datum.comp === 'env'"}], "mark": {"type": "line", "color": "#666666", "strokeWidth": 1.4, "interpolate": "monotone"}, "encoding": {}}
   ]},
  {"data": {"name": "ann"},
   "transform": [{"filter": "datum.p === 4"}],
   "layer": [
    {"transform": [{"filter": "datum.k === 'arr'"}], "mark": {"type": "rule", "strokeWidth": 1.3},
     "encoding": {"x2": {"field": "E2", "title": "Binding Energy (eV)"}, "y2": {"field": "v2", "title": "CPS"},
      "color": {"field": "t", "type": "nominal", "legend": null, "scale": {"domain": ["red","green","blue","purple","lblue","olive","magenta"], "range": ["#d8453e","#9cc54a","#2c5d99","#7a36b1","#7fc9e6","#4e6a1b","#7b1d87"]}}}},
    {"transform": [{"filter": "datum.k === 'arr'"}, {"calculate": "atan2((datum.E - datum.E2) * 19.5, (datum.v2 - datum.v) * 10.4) * 180 / PI", "as": "ang"}],
     "mark": {"type": "point", "shape": "M0,0L-0.45,1.1L0.45,1.1Z", "filled": true, "size": 380, "opacity": 1},
     "encoding": {"x": {"field": "E2", "type": "quantitative", "title": "Binding Energy (eV)"}, "y": {"field": "v2", "type": "quantitative", "title": "CPS"},
      "angle": {"field": "ang", "type": "quantitative", "scale": null},
      "color": {"field": "t", "type": "nominal", "legend": null, "scale": {"domain": ["red","green","blue","purple","lblue","olive","magenta"], "range": ["#d8453e","#9cc54a","#2c5d99","#7a36b1","#7fc9e6","#4e6a1b","#7b1d87"]}}}},
    {"transform": [{"filter": "datum.k === 'lab'"}], "mark": {"type": "text", "align": "right", "baseline": "alphabetic", "font": "Liberation Sans", "fontWeight": "bold", "fontSize": 23, "color": "#000"}, "encoding": {"text": {"field": "base"}}},
    {"transform": [{"filter": "datum.k === 'lab' && datum.sub !== ''"}], "mark": {"type": "text", "align": "left", "baseline": "alphabetic", "dy": 5, "font": "Liberation Sans", "fontWeight": "bold", "fontSize": 15, "color": "#000"}, "encoding": {"text": {"field": "sub"}}},
    {"transform": [{"filter": "datum.k === 'lab' && datum.sub === ''"}], "mark": {"type": "text", "align": "left", "baseline": "alphabetic", "dx": 1, "dy": -10, "font": "Liberation Sans", "fontWeight": "bold", "fontSize": 15, "color": "#000"}, "encoding": {"text": {"field": "sup"}}},
    {"transform": [{"filter": "datum.k === 'lab' && datum.sub !== ''"}], "mark": {"type": "text", "align": "left", "baseline": "alphabetic", "dx": 9, "dy": -10, "font": "Liberation Sans", "fontWeight": "bold", "fontSize": 15, "color": "#000"}, "encoding": {"text": {"field": "sup"}}},
    {"transform": [{"filter": "datum.k === 'mo'"}], "mark": {"type": "text", "align": "right", "baseline": "alphabetic", "font": "Liberation Serif", "fontSize": 38, "color": "#1a1a1a"}, "encoding": {"text": {"field": "base"}}},
    {"transform": [{"filter": "datum.k === 'x10'"}], "mark": {"type": "text", "align": "left", "baseline": "alphabetic", "font": "Liberation Serif", "fontSize": 36, "color": "#1a1a1a"}, "encoding": {"text": {"field": "base"}}},
    {"transform": [{"filter": "datum.k === 'e3'"}], "mark": {"type": "text", "align": "left", "baseline": "alphabetic", "font": "Liberation Serif", "fontSize": 34, "color": "#1a1a1a"}, "encoding": {"text": {"field": "base"}}}
   ]}
 ]
}
]
}
